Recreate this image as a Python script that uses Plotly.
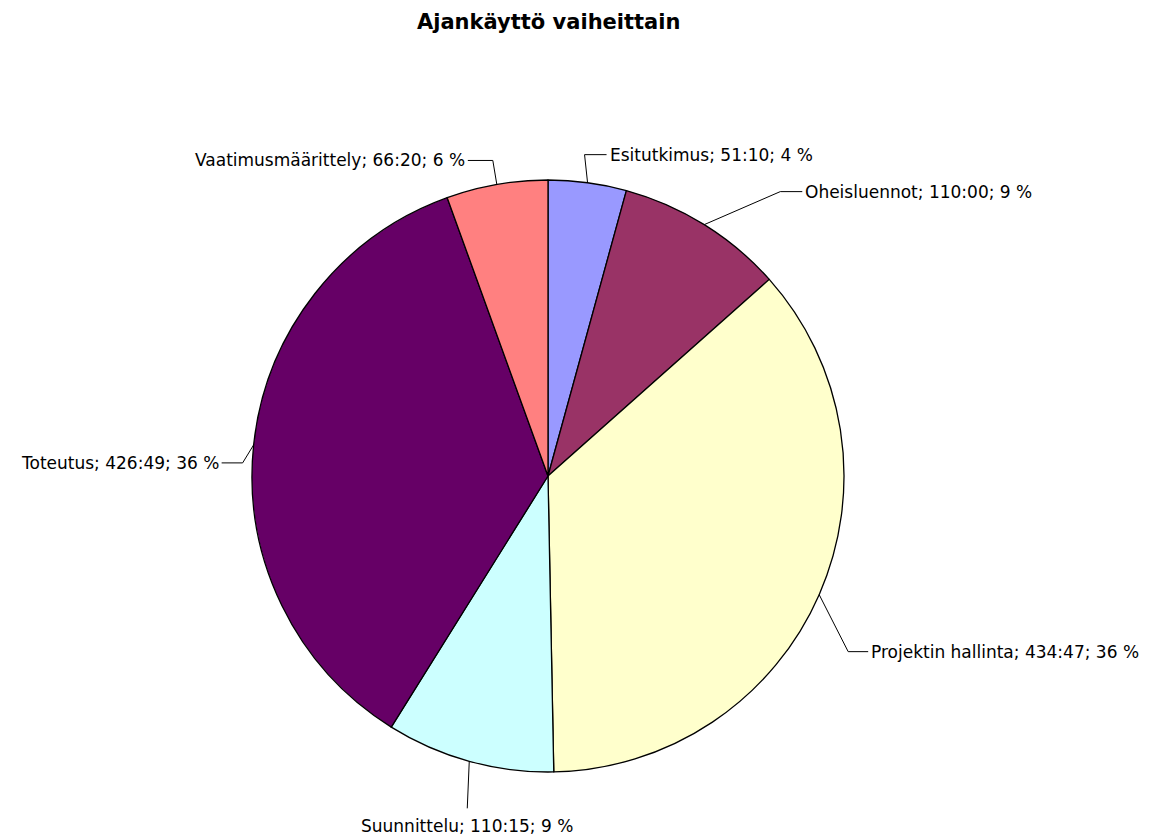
import math
import plotly.graph_objects as go

# ---- data ----
phases = ["Esitutkimus", "Oheisluennot", "Projektin hallinta", "Suunnittelu", "Toteutus", "Vaatimusmäärittely"]
durations = ["51:10", "110:00", "434:47", "110:15", "426:49", "66:20"]  # hh:mm
colors = ["#9999FF", "#993366", "#FFFFCC", "#CCFFFF", "#660066", "#FF8080"]
title_text = "Ajankäyttö vaiheittain"

# ---- label layout (pixel offsets of leader elbows from slice edge, tail lengths) ----
elbow_dx = [-3, 76, 29, -2, -11, -4]
elbow_dy = [-28, -33, 57, 47, 18, -24]
tail_len = [22, 22, 20, 0, -21, -25]

W, H = 1153, 837
CX, CY, R = 548, 476, 296

minutes = [int(d.split(":")[0]) * 60 + int(d.split(":")[1]) for d in durations]
hours = [m / 60 for m in minutes]
total = sum(minutes)
pcts = [round(100 * m / total) for m in minutes]
labels_txt = [f"{p}; {d}; {q} %" for p, d, q in zip(phases, durations, pcts)]

def px(x):
    return x / W

def py(y):
    return 1 - y / H

fig = go.Figure(go.Pie(
    labels=phases,
    values=hours,
    sort=False,
    direction="clockwise",
    rotation=0,
    marker=dict(colors=colors, line=dict(color="#000000", width=1.3)),
    textinfo="none",
    hoverinfo="skip",
    showlegend=False,
    domain=dict(x=[px(CX - R), px(CX + R)], y=[py(CY + R), py(CY - R)]),
))

shapes = []
annotations = []
cum = 0
for i, m in enumerate(minutes):
    mid = (cum + m / 2) / total
    cum += m
    ang = 2 * math.pi * mid
    ax = CX + R * math.sin(ang)
    ay = CY - R * math.cos(ang)
    ex = ax + elbow_dx[i]
    ey = ay + elbow_dy[i]
    tx = ex + tail_len[i]
    shapes.append(dict(
        type="path", xref="paper", yref="paper",
        path=f"M {px(ax)},{py(ay)} L {px(ex)},{py(ey)} L {px(tx)},{py(ey)}",
        line=dict(color="#000000", width=1),
    ))
    if tail_len[i] > 0:
        annotations.append(dict(x=px(tx + 1), y=py(ey), xref="paper", yref="paper",
                                text=labels_txt[i], showarrow=False, xanchor="left", yanchor="middle"))
    elif tail_len[i] < 0:
        annotations.append(dict(x=px(tx - 1), y=py(ey), xref="paper", yref="paper",
                                text=labels_txt[i], showarrow=False, xanchor="right", yanchor="middle"))
    else:
        annotations.append(dict(x=px(ex), y=py(ey + 18), xref="paper", yref="paper",
                                text=labels_txt[i], showarrow=False, xanchor="center", yanchor="middle"))

annotations.append(dict(x=px(CX), y=py(22), xref="paper", yref="paper",
                        text=f"<b>{title_text}</b>", showarrow=False,
                        xanchor="center", yanchor="middle",
                        font=dict(family="DejaVu Sans", size=21, color="#000000")))

fig.update_layout(
    width=W, height=H,
    margin=dict(l=0, r=0, t=0, b=0),
    paper_bgcolor="#FFFFFF",
    plot_bgcolor="#FFFFFF",
    font=dict(family="DejaVu Sans", size=17, color="#000000"),
    shapes=shapes,
    annotations=annotations,
)

fig.write_html("out.html", config={"displayModeBar": False},
               post_script="document.body.style.margin='0';document.body.style.overflow='hidden';")
